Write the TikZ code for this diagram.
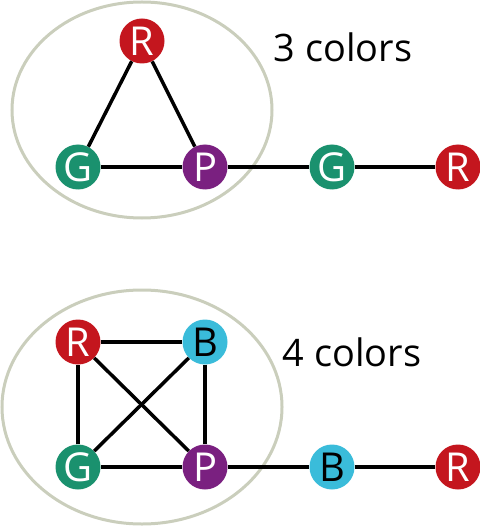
\documentclass[tikz,border=0pt]{standalone}
\usepackage{fontspec}
\setmainfont{Open Sans}
\definecolor{vred}{RGB}{196, 22, 30}
\definecolor{vgreen}{RGB}{26, 145, 110}
\definecolor{vpurple}{RGB}{122, 32, 128}
\definecolor{vblue}{RGB}{58, 188, 218}
\definecolor{ringgray}{RGB}{202, 206, 188}
\usetikzlibrary{positioning}

\begin{document}
\begin{tikzpicture}[x=1bp, y=-1bp,
  vert/.style={circle, minimum size=45bp, inner sep=0pt, font=\fontsize{40}{44}\selectfont},
  rv/.style={vert, fill=vred, text=white},
  gv/.style={vert, fill=vgreen, text=white},
  pv/.style={vert, fill=vpurple, text=white},
  bv/.style={vert, fill=vblue, text=black},
  edge/.style={line width=3.5bp, black},
  ring/.style={line width=3bp, ringgray},
  lbl/.style={font=\fontsize{38}{42}\selectfont}]
  \useasboundingbox (0,0) rectangle (480,529);

  % Clusters
  \draw[ring] (142,110) ellipse (130 and 108);
  \draw[ring] (142,407) ellipse (140 and 117);

  % Top graph
  \node[rv] (tR) at (142,41) {R};
  \node[gv] (tG) at (78,167) {G};
  \node[pv] (tP) at (205,167) {P};
  \node[gv] (tG2) at (332,167) {G};
  \node[rv] (tR2) at (458,167) {R};
  \node[lbl] (tlabel) at (343,47) {3 colors};

  % Bottom graph
  \node[rv] (bR) at (78,342) {R};
  \node[bv] (bB) at (205,342) {B};
  \node[gv] (bG) at (78,467) {G};
  \node[pv] (bP) at (205,467) {P};
  \node[bv] (bB2) at (332,467) {B};
  \node[rv] (bR2) at (458,467) {R};
  \node[lbl] (blabel) at (352,352) {4 colors};

  % Edges
  \draw[edge] (tR) -- (tG);
  \draw[edge] (tR) -- (tP);
  \draw[edge] (tG) -- (tP) -- (tG2) -- (tR2);
  \draw[edge] (bR) -- (bB) -- (bP) -- (bG) -- (bR);
  \draw[edge] (bR) -- (bP);
  \draw[edge] (bB) -- (bG);
  \draw[edge] (bP) -- (bB2) -- (bR2);
\end{tikzpicture}
\end{document}
